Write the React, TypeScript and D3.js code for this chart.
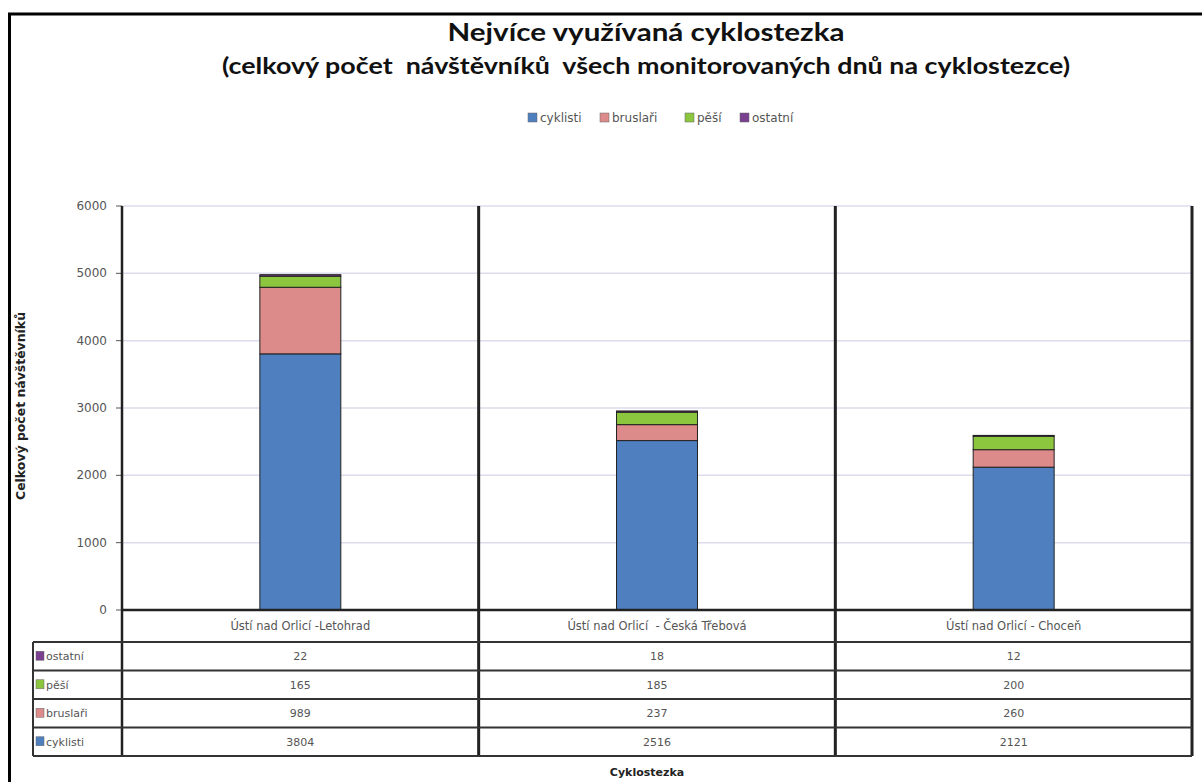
import * as d3 from "d3";

const categories = [
  "Ústí nad Orlicí -Letohrad",
  "Ústí nad Orlicí  - Česká Třebová",
  "Ústí nad Orlicí - Choceň",
];
const seriesNames = ["cyklisti", "bruslaři", "pěší", "ostatní"];
const cyklisti = [3804, 2516, 2121];
const bruslari = [989, 237, 260];
const pesi = [165, 185, 200];
const ostatni = [22, 18, 12];
const yTicks = [0, 1000, 2000, 3000, 4000, 5000, 6000];
const colors = ["#4f7fbf", "#dc8a8a", "#8cc63f", "#7a3f8f"];

const W = 1202;
const H = 782;
const PLOT = { left: 122, right: 1192, top: 206, bottom: 610 };
const TABLE_LEFT = 33;
const ROW_H = 28.5;
const HEADER_H = 32;
const TITLE_FONT = "Lato, 'Open Sans', sans-serif";
const FONT = "'DejaVu Sans', Verdana, sans-serif";

export default function App() {
  const values = [cyklisti, bruslari, pesi, ostatni];
  const rows = categories.map((c, i) => {
    const r: Record<string, number | string> = { cat: c };
    seriesNames.forEach((s, k) => (r[s] = values[k][i]));
    return r;
  });
  const stacked = d3.stack<any>().keys(seriesNames)(rows);

  const x = d3
    .scaleBand<string>()
    .domain(categories)
    .range([PLOT.left, PLOT.right])
    .paddingInner(0)
    .paddingOuter(0);
  const y = d3.scaleLinear().domain([0, 6000]).range([PLOT.bottom, PLOT.top]);
  const barW = x.bandwidth() * 0.227;

  // table rows shown top to bottom: ostatní, pěší, bruslaři, cyklisti
  const tableOrder = [3, 2, 1, 0];
  const tableTop = PLOT.bottom + HEADER_H;
  const tableBottom = tableTop + ROW_H * tableOrder.length;
  const lineColor = "#333";
  const legendX = [528, 600, 685, 740];

  return (
    <svg width={W} height={H} style={{ position: "absolute", left: 0, top: 0, background: "#fff" }}>
      {/* y axis title */}
      <text
        transform={`translate(25,${406}) rotate(-90)`}
        textAnchor="middle"
        fontFamily={FONT}
        fontWeight="bold"
        fontSize={12}
        fill="#222"
        textLength={188}
        lengthAdjust="spacingAndGlyphs"
      >
        Celkový počet návštěvníků
      </text>

      {/* outer frame */}
      <rect x={9.5} y={14} width={W + 10} height={H + 10} fill="none" stroke="#000" strokeWidth={3} />

      {/* titles */}
      <text
        x={646}
        y={41}
        textAnchor="middle"
        fontFamily={TITLE_FONT}
        fontWeight="bold"
        fontSize={25}
        fill="#111"
        textLength={397}
        lengthAdjust="spacingAndGlyphs"
      >
        Nejvíce využívaná cyklostezka
      </text>
      <text
        x={646}
        y={74}
        textAnchor="middle"
        fontFamily={TITLE_FONT}
        fontWeight="bold"
        fontSize={22}
        fill="#111"
        textLength={848}
        lengthAdjust="spacingAndGlyphs"
        style={{ whiteSpace: "pre" }}
      >
        (celkový počet  návštěvníků  všech monitorovaných dnů na cyklostezce)
      </text>

      {/* legend */}
      <g fontFamily={FONT} fontSize={12} fill="#555">
        {seriesNames.map((s, k) => (
          <g key={s} transform={`translate(${legendX[k]},113)`}>
            <rect width={9} height={9} fill={colors[k]} stroke="#666" strokeWidth={0.5} />
            <text x={12} y={9}>{s}</text>
          </g>
        ))}
      </g>

      {/* gridlines */}
      {yTicks.map((t) => (
        <line key={t} x1={PLOT.left} x2={PLOT.right} y1={y(t)} y2={y(t)} stroke="#dcdcec" strokeWidth={1.5} />
      ))}

      {/* y tick labels */}
      {yTicks.map((t) => (
        <g key={"l" + t}>
          <line x1={PLOT.left - 6} x2={PLOT.left} y1={y(t)} y2={y(t)} stroke="#555" />
          <text x={107} y={y(t) + 4} textAnchor="end" fontFamily={FONT} fontSize={12} fill="#555">
            {t}
          </text>
        </g>
      ))}

      {/* bars */}
      {stacked.map((layer, k) => (
        <g key={layer.key} fill={colors[k]}>
          {layer.map((d, i) => (
            <rect
              key={i}
              x={(x(categories[i]) as number) + (x.bandwidth() - barW) / 2}
              y={y(d[1])}
              width={barW}
              height={y(d[0]) - y(d[1])}
              stroke="#222"
              strokeWidth={1}
            />
          ))}
        </g>
      ))}

      {/* axis baseline */}
      <line x1={PLOT.left} x2={PLOT.right} y1={PLOT.bottom} y2={PLOT.bottom} stroke="#222" strokeWidth={2.5} />

      {/* vertical separators */}
      {[...categories.map((c) => x(c) as number), PLOT.right].map((v, i) => (
        <line key={"v" + i} x1={v} x2={v} y1={PLOT.top} y2={tableBottom} stroke="#222" strokeWidth={i === 0 ? 2.5 : 3} />
      ))}

      {/* category labels */}
      {categories.map((c) => (
        <text
          key={c}
          x={(x(c) as number) + x.bandwidth() / 2}
          y={PLOT.bottom + 20}
          textAnchor="middle"
          fontFamily={FONT}
          fontSize={11.5}
          fill="#555"
          style={{ whiteSpace: "pre" }}
        >
          {c}
        </text>
      ))}

      {/* data table */}
      {[0, 1, 2, 3, 4].map((j) => (
        <line
          key={"h" + j}
          x1={TABLE_LEFT}
          x2={PLOT.right}
          y1={tableTop + j * ROW_H}
          y2={tableTop + j * ROW_H}
          stroke={lineColor}
          strokeWidth={2}
        />
      ))}
      <line x1={TABLE_LEFT} x2={TABLE_LEFT} y1={tableTop} y2={tableBottom} stroke={lineColor} strokeWidth={2} />
      {tableOrder.map((k, j) => {
        const cy = tableTop + j * ROW_H + ROW_H / 2;
        return (
          <g key={"r" + k} fontFamily={FONT} fontSize={11} fill="#555">
            <rect x={36} y={cy - 5} width={8} height={9} fill={colors[k]} stroke="#666" strokeWidth={0.5} />
            <text x={46} y={cy + 4}>{seriesNames[k]}</text>
            {categories.map((c, i) => (
              <text key={c} x={(x(c) as number) + x.bandwidth() / 2} y={cy + 4} textAnchor="middle">
                {values[k][i]}
              </text>
            ))}
          </g>
        );
      })}

      {/* x axis title */}
      <text x={647} y={776} textAnchor="middle" fontFamily={FONT} fontWeight="bold" fontSize={11} fill="#222">
        Cyklostezka
      </text>
    </svg>
  );
}
